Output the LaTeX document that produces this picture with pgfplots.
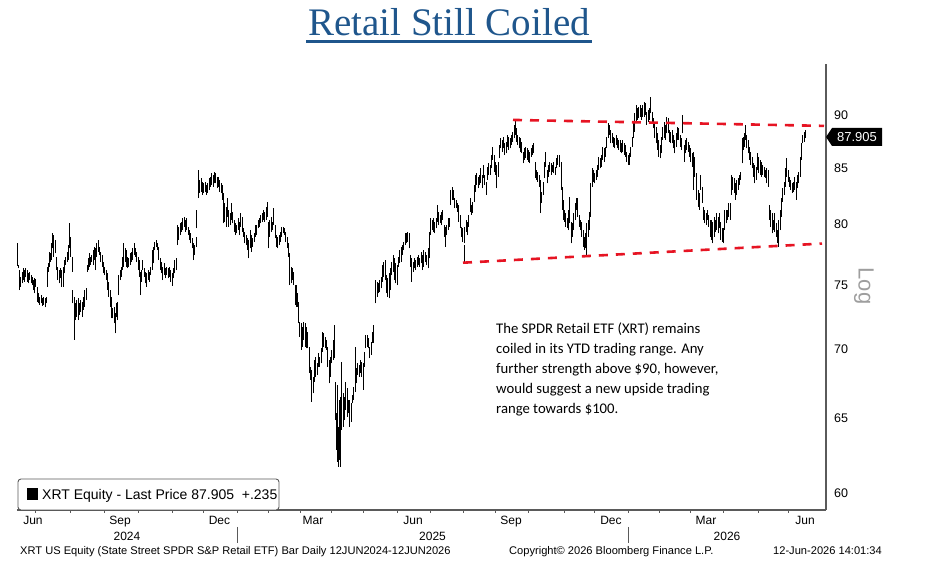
\documentclass[border=0pt]{standalone}
\usepackage{fontspec}
\usepackage{pgfplots}
\usepackage{pgfplotstable}
\pgfplotsset{compat=1.18}
\setmainfont{Liberation Sans}
\newfontfamily\titlefont{Liberation Serif}
\newfontfamily\notefont{Carlito}
\definecolor{titleblue}{RGB}{31,86,140}
\definecolor{axgray}{RGB}{90,90,90}
\definecolor{trendred}{RGB}{230,20,35}

\pgfplotstableread{
x h l
18.0 78.43 76.54
19.0 76.62 76.35
20.0 76.21 74.59
21.0 75.67 74.86
22.3 76.07 75.13
23.3 76.35 75.40
24.7 76.21 75.26
26.0 76.35 75.62
27.3 76.21 75.26
28.7 75.94 75.13
30.0 76.07 75.40
31.3 75.81 75.13
32.7 75.62 75.00
34.0 75.40 74.59
35.0 75.54 74.33
36.0 75.46 74.86
37.3 74.86 73.67
38.7 74.33 73.54
40.0 74.06 73.41
41.3 74.19 73.54
42.7 73.93 73.33
44.0 74.06 73.41
45.3 73.93 73.22
46.3 74.06 73.54
47.3 76.48 74.86
48.3 76.76 76.07
49.3 77.73 76.48
50.3 77.59 76.89
51.3 78.43 77.03
52.7 79.27 78.01
54.0 79.13 77.31
55.3 78.70 77.59
56.7 77.31 76.21
58.0 76.48 75.40
59.3 76.21 75.13
60.7 76.35 75.54
62.0 76.21 74.86
63.3 76.48 74.86
64.7 77.03 75.94
66.0 77.31 76.62
67.3 77.73 76.89
68.7 78.29 77.03
69.7 80.12 78.01
71.0 78.98 77.31
72.3 77.31 76.07
73.0 74.59 73.54
74.3 74.06 70.70
75.3 73.54 72.23
76.7 73.80 72.49
78.0 73.93 72.23
79.3 73.54 72.62
80.7 73.80 72.88
82.0 73.67 72.49
83.3 74.06 73.01
84.7 74.59 73.28
86.0 74.73 73.80
87.0 76.62 76.07
88.0 77.17 76.21
89.3 77.59 76.48
90.3 77.31 76.62
91.7 77.45 76.89
93.0 77.87 76.62
94.0 78.15 77.03
95.3 78.01 76.21
96.7 78.43 77.31
98.0 78.70 77.73
99.3 78.15 77.45
100.7 77.73 76.89
102.0 77.45 76.48
103.3 76.89 75.94
104.7 76.48 75.81
106.0 76.21 75.40
107.3 75.94 74.59
108.7 75.26 74.06
110.0 74.59 73.28
111.3 74.06 72.36
112.7 73.14 72.36
114.0 73.28 71.97
115.3 72.75 71.21
116.7 73.54 72.49
117.7 73.67 72.23
118.7 75.81 74.19
120.0 76.21 75.40
121.3 76.48 75.67
122.7 77.31 76.21
123.7 78.43 76.48
125.0 78.01 76.89
126.0 77.87 76.48
127.3 77.31 76.35
128.7 77.17 76.48
130.0 77.59 76.62
131.3 77.73 76.89
132.7 78.01 77.03
134.0 78.43 77.45
135.3 78.01 77.31
136.7 77.73 76.89
138.0 77.31 76.21
139.3 77.03 75.67
140.3 76.07 74.19
141.3 76.21 75.26
142.7 77.03 76.21
144.0 76.35 75.67
145.3 76.07 75.13
146.7 75.94 74.86
148.0 76.21 75.40
149.3 76.07 75.26
150.7 76.48 75.81
152.0 77.87 76.21
153.3 78.15 76.76
154.7 78.56 77.87
156.0 78.70 78.14
157.3 78.42 77.87
158.7 78.14 77.03
160.0 77.17 76.21
161.3 76.89 75.94
162.7 76.48 75.40
164.0 76.76 75.81
165.3 76.35 75.54
166.7 76.48 75.81
168.0 76.35 75.54
169.3 76.48 75.67
170.7 76.21 75.26
172.0 75.94 74.92
173.3 76.35 75.54
174.7 77.03 75.94
176.0 77.17 76.21
177.3 79.98 78.28
178.7 79.84 78.70
180.0 80.12 79.13
181.3 80.26 79.41
182.7 80.55 79.55
184.0 80.70 79.84
185.3 80.41 79.41
186.7 80.55 79.55
188.0 79.84 79.13
189.3 79.55 78.70
190.7 79.27 78.42
192.0 78.85 78.01
193.3 78.42 77.03
194.7 78.28 77.45
196.0 78.98 78.14
196.7 81.28 79.69
198.3 84.84 82.31
199.7 83.94 82.75
201.0 84.09 82.89
202.3 83.79 82.60
203.7 83.64 82.75
205.0 83.79 82.89
206.3 83.49 82.60
207.7 83.64 82.75
209.0 84.09 83.04
210.3 84.24 83.34
211.7 84.54 83.49
213.0 84.39 83.34
214.3 84.69 83.64
215.7 84.54 83.64
217.0 84.24 83.19
218.3 84.24 83.34
219.7 83.94 82.89
221.0 83.64 82.75
222.3 83.49 82.16
223.3 82.75 80.12
224.7 81.87 80.26
226.0 81.57 79.84
227.3 82.31 80.70
228.7 81.28 79.84
230.0 80.99 79.98
231.3 81.87 80.41
232.7 81.13 80.12
234.0 80.41 79.41
235.3 80.12 79.13
236.7 79.98 79.27
238.0 80.55 79.55
239.3 80.26 79.13
240.7 80.99 79.84
242.0 80.70 79.41
243.3 79.69 78.98
244.7 79.41 78.42
246.0 79.13 78.28
247.3 78.85 77.87
248.7 78.70 77.17
250.0 79.55 78.01
251.3 79.13 77.73
252.7 78.85 78.14
254.0 79.27 78.56
255.3 79.98 78.98
256.7 79.98 79.13
258.0 80.41 79.69
259.3 80.55 79.84
260.7 80.85 80.12
262.0 80.99 80.26
263.3 81.28 80.41
264.7 81.13 80.26
266.0 81.57 80.41
267.0 82.01 80.70
268.3 80.26 78.01
269.7 80.41 78.98
271.0 80.70 79.41
272.3 80.26 79.55
273.7 81.43 79.98
275.0 79.98 78.85
276.3 79.13 78.14
277.7 78.98 78.01
279.0 79.13 78.28
280.3 79.41 78.56
281.7 79.84 78.98
283.0 79.84 79.27
284.3 79.69 79.13
285.7 79.41 78.56
287.0 78.98 78.01
288.3 78.42 77.31
289.7 77.59 75.00
291.0 76.48 75.13
292.3 76.35 75.40
293.7 76.07 75.00
295.0 75.00 73.40
296.3 75.00 73.27
297.7 74.33 73.27
298.7 73.67 71.97
299.7 72.10 70.95
301.0 71.97 69.94
302.3 71.71 70.19
303.7 72.10 70.70
305.0 71.97 70.19
306.3 71.71 70.07
307.7 71.33 70.07
309.0 70.19 68.22
310.3 68.71 67.73
311.7 68.46 66.17
313.0 67.97 66.77
314.3 69.20 67.61
315.7 69.45 67.97
317.0 68.95 68.10
318.3 69.70 68.71
319.7 69.45 68.71
321.0 70.07 68.95
322.3 71.33 69.81
323.7 71.21 70.19
325.0 70.95 70.07
326.3 70.70 69.94
327.7 70.19 68.71
329.0 69.20 67.49
330.3 69.45 67.97
331.7 69.94 68.95
333.0 70.70 69.20
334.0 71.84 69.32
335.3 67.61 64.88
336.3 65.35 62.83
337.3 67.37 62.05
338.3 64.42 61.72
339.3 66.29 62.16
340.3 66.53 61.72
341.7 69.07 64.19
343.0 66.77 64.42
344.3 66.53 64.88
345.7 67.61 65.58
347.0 67.13 65.11
348.3 66.29 65.35
349.7 66.29 64.42
351.0 66.06 64.76
352.3 66.65 66.06
353.7 67.25 66.29
355.0 70.19 66.89
356.3 68.58 67.49
357.7 68.95 68.10
359.0 68.83 67.97
360.3 69.20 68.22
361.7 69.07 67.97
363.0 68.95 67.01
364.3 69.81 68.71
365.7 71.08 70.07
367.0 71.08 70.19
368.3 70.83 70.07
369.7 70.19 69.32
371.0 70.57 69.57
372.3 71.33 70.45
373.7 71.84 70.45
375.7 75.40 73.54
377.0 75.26 74.06
378.3 75.13 74.33
379.7 75.40 74.46
381.0 75.67 74.73
382.3 76.62 75.26
383.7 76.89 75.67
385.0 77.03 75.40
386.3 75.81 74.33
387.7 75.54 74.06
389.0 75.94 73.93
390.3 76.35 74.59
391.7 76.89 75.81
393.0 77.45 76.07
394.3 77.17 75.40
395.7 76.76 75.13
397.0 76.62 75.00
398.3 77.31 76.48
399.7 77.87 76.76
401.0 78.14 76.89
402.3 78.28 77.45
403.7 78.56 77.87
405.0 79.27 78.28
406.3 79.27 78.42
407.7 79.41 78.56
409.0 79.27 78.01
410.3 77.45 76.48
411.7 77.17 75.26
413.0 76.89 76.07
414.3 77.17 76.35
415.7 77.03 76.21
417.0 77.31 76.48
418.3 77.45 76.62
419.7 77.17 76.48
421.0 77.73 76.76
422.3 77.45 76.21
423.7 77.87 76.48
425.3 77.73 76.89
426.7 77.45 76.62
428.0 78.01 76.35
429.3 79.41 77.17
430.7 80.55 79.13
432.0 80.41 79.55
433.3 80.55 79.41
434.7 80.26 79.27
436.0 80.55 79.69
437.3 81.72 80.26
438.7 81.13 79.98
440.0 80.85 80.12
441.3 81.13 79.98
442.7 81.28 80.41
444.0 79.98 78.98
445.3 79.84 78.14
446.7 79.98 79.13
448.0 80.55 79.55
449.3 80.55 79.84
450.7 83.04 81.72
452.0 83.34 82.16
453.3 83.04 82.16
454.7 82.31 81.43
456.0 82.16 81.43
457.3 81.87 81.13
458.7 81.72 80.26
460.0 80.85 79.69
461.3 79.84 78.98
462.7 79.69 78.56
464.0 79.84 78.42
464.7 78.28 76.89
466.0 80.41 79.41
467.3 80.26 79.13
468.7 80.85 79.84
470.0 82.31 81.13
471.3 81.72 80.85
472.7 82.01 80.99
474.0 83.49 82.01
475.3 84.39 82.89
476.7 84.54 83.49
478.0 84.24 83.19
479.3 84.39 83.49
480.7 84.99 83.64
482.0 84.39 83.19
483.3 85.30 84.09
484.7 84.39 83.49
486.0 83.79 82.60
487.3 85.15 83.94
488.7 85.45 84.39
490.0 85.30 84.39
491.3 86.22 84.99
492.7 86.99 85.76
494.0 86.22 84.69
495.3 85.61 84.39
496.7 85.30 83.19
498.0 85.61 84.24
499.3 87.15 85.91
500.7 87.78 86.84
502.0 87.62 86.52
503.3 87.93 86.84
504.7 87.30 86.22
506.0 87.46 86.37
507.3 88.09 86.99
508.7 87.93 86.68
510.0 87.78 86.84
511.3 88.09 87.15
512.7 88.40 87.46
514.0 89.04 87.78
515.0 89.52 88.09
516.3 88.72 87.46
517.7 88.09 87.15
519.0 87.93 86.84
520.3 87.78 86.52
521.7 87.46 86.37
523.0 86.52 85.45
524.3 86.84 85.76
525.7 86.99 85.91
527.0 86.84 85.76
528.3 86.68 85.61
529.7 86.52 85.45
531.0 86.84 86.07
532.3 87.15 86.22
533.7 87.30 86.37
535.0 85.61 84.09
536.3 84.84 83.94
537.7 84.69 83.79
539.0 84.39 83.34
540.3 83.94 80.99
541.7 82.89 81.87
543.0 83.79 82.60
544.3 85.61 84.09
545.7 86.52 85.15
547.0 84.84 83.64
548.3 85.30 84.24
549.7 85.61 84.69
551.0 85.45 84.39
552.3 85.30 84.69
553.7 85.61 84.54
555.0 85.15 84.39
556.3 85.91 84.99
557.7 86.22 85.30
559.0 86.22 85.15
561.0 85.61 83.04
562.0 83.34 81.28
563.0 82.16 80.41
564.3 81.28 80.26
565.7 80.99 79.84
567.0 80.55 79.69
568.3 81.28 79.55
569.7 82.45 80.12
571.0 80.26 78.42
572.3 80.12 78.98
573.7 80.99 79.55
575.0 81.87 80.41
576.3 82.31 81.28
577.7 82.31 80.70
579.0 80.85 79.84
580.3 80.41 79.55
581.7 80.26 78.98
583.0 79.55 78.14
584.3 78.98 77.87
585.7 79.27 78.01
586.7 80.12 77.45
588.0 80.41 78.98
589.3 81.13 79.55
590.7 83.64 80.70
592.0 84.99 83.34
593.3 84.84 83.79
594.7 84.54 83.64
596.0 84.84 83.94
597.3 85.30 84.24
598.7 86.07 84.84
600.0 85.91 84.99
601.3 86.22 85.15
602.7 86.99 85.76
604.0 86.84 85.61
605.3 86.99 86.07
606.7 87.93 86.84
608.0 89.20 87.78
609.3 89.04 88.09
610.7 88.56 87.30
612.0 88.24 87.30
613.3 87.93 86.99
614.7 87.78 86.84
616.0 88.09 87.15
617.3 87.78 86.84
618.7 87.62 86.68
620.0 87.62 86.52
621.3 87.30 86.37
622.7 87.62 86.52
624.0 87.30 86.22
625.3 87.15 86.07
626.7 86.52 85.61
628.0 86.22 85.30
629.3 86.37 85.30
630.7 86.99 86.07
632.0 87.93 86.99
633.3 89.36 87.78
634.7 90.16 88.40
636.0 90.97 89.20
637.3 90.65 89.52
638.7 90.81 89.68
640.0 90.97 89.84
641.3 90.65 89.52
642.7 90.97 89.84
644.0 91.30 89.84
645.3 91.13 90.00
646.7 90.32 89.04
648.0 90.48 89.36
649.3 90.65 89.52
650.7 91.79 90.16
652.0 90.32 89.20
653.3 89.68 88.72
654.7 89.20 87.78
656.0 88.88 87.30
657.3 88.24 86.68
658.7 87.62 86.07
660.0 87.15 85.91
661.3 87.93 86.37
662.7 88.88 87.62
664.0 89.36 87.78
665.3 89.04 87.62
666.7 89.84 88.24
668.0 89.68 88.24
669.3 88.56 87.46
670.7 88.40 87.30
672.0 88.56 87.30
673.3 88.09 86.84
674.7 87.62 86.37
676.0 88.24 86.99
677.3 88.88 87.62
678.7 88.72 87.62
680.0 88.09 86.99
681.3 87.78 86.68
682.7 90.00 88.24
684.0 87.15 85.61
685.3 87.62 86.37
686.7 87.78 86.68
688.0 87.46 86.52
689.3 87.15 86.07
690.7 86.84 85.61
692.0 86.37 85.15
693.3 86.52 83.04
694.7 86.07 84.24
696.7 84.54 82.16
698.0 83.04 81.57
699.3 82.75 81.28
700.7 84.39 83.04
702.0 83.34 81.87
703.3 81.57 80.41
704.7 81.28 80.12
706.0 80.99 79.98
707.3 81.28 80.41
708.7 80.85 79.84
710.0 80.41 78.98
711.3 80.41 78.70
712.7 80.26 78.42
714.0 80.70 78.98
715.3 80.41 79.41
716.7 80.99 79.55
718.0 80.70 79.27
719.3 80.99 79.69
720.7 80.26 78.70
722.0 79.69 78.56
723.3 79.69 78.42
724.7 81.28 79.55
726.0 81.28 80.12
727.3 81.28 80.41
728.7 81.87 80.70
730.0 81.87 80.41
731.3 84.39 82.60
732.7 84.24 83.04
734.0 84.09 82.75
735.3 83.64 82.16
736.7 83.94 82.60
738.0 84.09 83.04
739.3 84.39 83.49
740.7 84.69 83.94
742.0 87.78 85.45
743.3 87.93 86.68
744.7 88.24 86.99
745.7 89.04 87.62
746.7 88.09 86.84
748.0 87.62 86.37
749.3 86.99 85.76
750.7 86.52 85.30
752.0 86.07 84.99
753.3 85.45 84.24
754.7 85.30 83.64
756.0 85.15 83.94
757.3 86.37 84.84
758.7 86.07 84.54
760.0 85.76 84.39
761.3 85.61 84.24
762.7 85.30 84.39
764.0 85.15 84.24
765.3 84.84 84.09
766.7 84.99 83.64
768.0 84.84 83.34
769.3 81.72 80.41
770.7 81.28 79.84
772.0 80.99 79.27
773.3 80.41 79.55
774.7 80.99 79.41
776.0 80.12 78.98
777.3 79.55 78.42
778.7 80.41 78.14
780.0 81.28 79.55
781.3 82.31 80.70
782.7 83.19 82.01
784.0 83.79 82.60
785.3 84.99 83.34
786.7 85.91 84.24
788.0 84.84 83.79
789.3 84.24 83.34
790.7 83.94 83.04
792.0 83.64 82.75
793.3 83.79 82.89
794.7 84.24 83.04
796.0 83.79 82.16
797.3 84.39 83.19
798.7 84.69 83.64
800.0 86.07 84.24
801.3 87.30 85.76
802.7 88.09 87.30
804.0 88.40 87.46
805.0 88.56 87.78
}\xrt

\begin{document}
\begin{tikzpicture}[x=1pt,y=1pt]
\useasboundingbox (0,0) rectangle (935,588);
\begin{axis}[
  at={(17pt,78pt)}, anchor=south west,
  scale only axis, width=809pt, height=446pt,
  xmin=17, xmax=826, ymin=58.91, ymax=95.06,
  ymode=log,
  axis x line*=bottom, axis y line*=right,
  axis line style={axgray, line width=1.2pt, -},
  xtick={35.7,70,104,138,172,203,237,268,300,331,363,397,430,463,495,528,564,594,628,659,690,723,758,788},
  xticklabels={},
  tick align=outside,
  major tick length=3pt,
  x tick style={axgray, line width=0.8pt},
  ytick={60,65,70,75,80,85,90,95},
  yticklabels={60,65,70,75,80,85,90,{}},
  y tick style={draw=none},
  yticklabel style={font=\fontsize{12.5}{14}\selectfont, anchor=west, inner sep=0pt, xshift=5pt},
  /pgf/number format/assume math mode=true,
  clip=false,
]
\addplot[draw=none, mark=none, forget plot,
  error bars/.cd, y dir=plus, y explicit, error mark=none,
  error bar style={draw=black, solid, line width=1pt}]
  table[x=x, y=l, y error plus expr=\thisrow{h}-\thisrow{l}] {\xrt};
\addplot[trendred, line width=2.6pt, dash pattern=on 9pt off 8pt, mark=none] coordinates {(513,89.52) (824,88.95)};
\addplot[trendred, line width=2.6pt, dash pattern=on 9pt off 8pt, mark=none] coordinates {(463,76.82) (822,78.41)};
\pgfplotsinvokeforeach{60,65,70,75,80,85,90,95}{
  \fill[black] (axis cs:826,#1) ++(0,2.4pt) -- ++(7pt,-2.4pt) -- ++(-7pt,-2.4pt) -- cycle;
}
\end{axis}

% title
\node[anchor=base, inner sep=0, text=titleblue, font=\titlefont\fontsize{39}{40}\selectfont] at (449,552) {Retail Still Coiled};
\fill[titleblue] (306,545) rectangle (592,547.5);

% month and year labels
\foreach \xx/\mm in {33/Jun,120/Sep,219.5/Dec,313/Mar,413/Jun,511/Sep,611/Dec,706/Mar,805/Jun}{
  \node[anchor=base, inner sep=0, font=\fontsize{12}{14}\selectfont] at (\xx,63.5) {\mm};
}
\foreach \xx/\yy in {127/2024,432.5/2025,727/2026}{
  \node[anchor=base, inner sep=0, font=\fontsize{12}{14}\selectfont] at (\xx,47) {\yy};
}
\draw[axgray, line width=0.8pt] (237,61) -- (237,45);
\draw[axgray, line width=0.8pt] (628,61) -- (628,45);

% footer
\node[anchor=base west, inner sep=0, font=\fontsize{11.1}{12}\selectfont] at (20,33) {XRT US Equity (State Street SPDR S\&P Retail ETF) Bar Daily 12JUN2024-12JUN2026};
\node[anchor=base west, inner sep=0, font=\fontsize{11.1}{12}\selectfont] at (509,33) {Copyright\textcopyright{} 2026 Bloomberg Finance L.P.};
\node[anchor=base west, inner sep=0, font=\fontsize{11.1}{12}\selectfont] at (773,33) {12-Jun-2026 14:01:34};

% Log label
\node[rotate=-90, inner sep=0, text=black!38, font=\fontsize{22}{24}\selectfont] at (864,302) {Log};

% last price tag
\fill[black] (826,451) -- (832,460) -- (882,460) -- (882,442) -- (832,442) -- cycle;
\node[text=white, inner sep=0, font=\fontsize{13}{14}\selectfont] at (857,451) {87.905};

% legend
\draw[rounded corners=3pt, draw=black!65, fill=white, line width=0.9pt] (18,78) rectangle (279,109);
\fill[black] (27,88.4) rectangle (38,99.5);
\node[anchor=base west, inner sep=0, font=\fontsize{14}{16}\selectfont] at (42,88.4) {XRT Equity - Last Price 87.905\ \ +.235};

% annotation
\begin{scope}[every node/.style={anchor=base west, inner sep=0, font=\notefont\fontsize{14.7}{18}\selectfont}]
\node at (496,254) {The SPDR Retail ETF (XRT) remains};
\node at (496,234) {coiled in its YTD trading range. Any};
\node at (496,214) {further strength above \$90, however,};
\node at (496,194) {would suggest a new upside trading};
\node at (496,174) {range towards \$100.};
\end{scope}
\end{tikzpicture}
\end{document}
